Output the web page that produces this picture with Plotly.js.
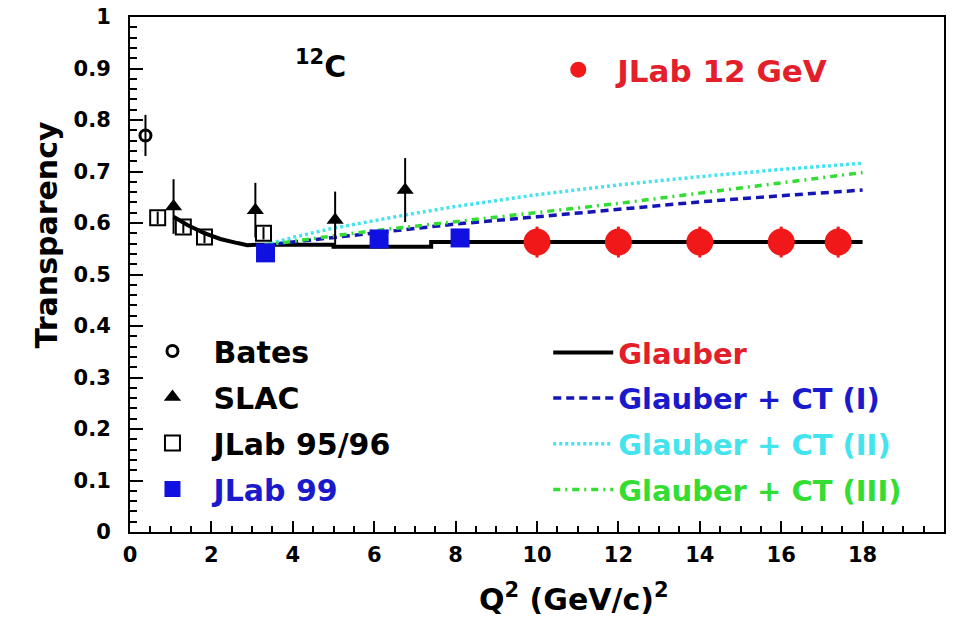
<!DOCTYPE html>
<html>
<head>
<meta charset="utf-8">
<script src="https://cdn.plot.ly/plotly-3.0.1.min.js"></script>
<style>
  html, body { margin: 0; padding: 0; background: #ffffff; }
  #chart { width: 958px; height: 618px; }
</style>
</head>
<body>
<div id="chart"></div>
<script>
// Nuclear transparency of 12C in A(e,e'p) versus Q^2

// Bates
const q2Bates = [0.38];
const tBates = [0.77];
const eBates = [0.04];

// SLAC NE18
const q2Slac = [1.07, 3.08, 5.04, 6.76];
const tSlac = [0.632, 0.625, 0.606, 0.664];
const eSlac = [0.053, 0.053, 0.055, 0.062];

// JLab 95/96
const q2Jlab95 = [0.68, 1.31, 1.83, 3.28];
const tJlab95 = [0.610, 0.592, 0.573, 0.580];
const eJlab95 = [0.012, 0.012, 0.012, 0.012];

// JLab 99
const q2Jlab99 = [3.33, 6.12, 8.11];
const tJlab99 = [0.542, 0.569, 0.571];

// JLab 12 GeV projection
const q2Jlab12 = [10, 12, 14, 16, 17.4];
const tJlab12 = [0.563, 0.563, 0.563, 0.563, 0.563];
const eJlab12 = [0.03, 0.03, 0.03, 0.03, 0.03];

// Glauber calculation
const q2Glauber = [1.07, 1.41, 1.81, 2.22, 2.64, 2.88, 3.1, 5.0, 5.0, 7.4, 7.4, 18.0];
const tGlauber = [0.612, 0.596, 0.581, 0.569, 0.561, 0.557, 0.558, 0.558, 0.554, 0.554, 0.563, 0.563];

// Glauber + colour transparency models
const q2CT = [3.3, 4, 5, 6, 7, 8, 10, 12, 14, 16, 18];
const tCT1 = [0.557, 0.563, 0.572, 0.581, 0.590, 0.598, 0.612, 0.627, 0.641, 0.653, 0.664];
const tCT2 = [0.557, 0.572, 0.590, 0.605, 0.619, 0.632, 0.655, 0.674, 0.690, 0.704, 0.716];
const tCT3 = [0.557, 0.565, 0.575, 0.585, 0.594, 0.603, 0.620, 0.638, 0.658, 0.678, 0.698];

const xTicks = [0, 2, 4, 6, 8, 10, 12, 14, 16, 18];
const xTickText = ['0', '2', '4', '6', '8', '10', '12', '14', '16', '18'];
const yTicks = [0, 0.1, 0.2, 0.3, 0.4, 0.5, 0.6, 0.7, 0.8, 0.9, 1];
const yTickText = ['0', '0.1', '0.2', '0.3', '0.4', '0.5', '0.6', '0.7', '0.8', '0.9', '1'];

const FONT = 'DejaVu Sans, Verdana, sans-serif';
const RED = '#e3202a';
const BLUE = '#1a1acc';
const CYAN = '#44e4ee';
const GREEN = '#33dd33';

function label(txt, color) {
  return '<span style="color:' + color + '">' + txt + '</span>';
}

const traces = [
  {
    x: q2Glauber, y: tGlauber, mode: 'lines', name: label('Glauber', RED),
    line: { color: '#000000', width: 4 }, legend: 'legend2', legendgroup: 'g1'
  },
  {
    x: q2CT, y: tCT1, mode: 'lines', name: label('Glauber + CT (I)', BLUE),
    line: { color: '#1515b5', width: 3.5, dash: '8px,5px' }, legend: 'legend2', legendgroup: 'g2'
  },
  {
    x: q2CT, y: tCT2, mode: 'lines', name: label('Glauber + CT (II)', CYAN),
    line: { color: CYAN, width: 3.5, dash: '3px,3px' }, legend: 'legend2', legendgroup: 'g3'
  },
  {
    x: q2CT, y: tCT3, mode: 'lines', name: label('Glauber + CT (III)', GREEN),
    line: { color: GREEN, width: 3.5, dash: '7px,5px,2px,5px' }, legend: 'legend2', legendgroup: 'g4'
  },
  {
    x: q2Bates, y: tBates, mode: 'markers', name: 'Bates',
    marker: { symbol: 'circle-open', size: 11, color: '#000000', line: { width: 3 } },
    error_y: { type: 'data', array: eBates, color: '#000000', thickness: 2, width: 0 },
    legend: 'legend', legendgroup: 'd1'
  },
  {
    x: q2Slac, y: tSlac, mode: 'markers', name: 'SLAC',
    marker: { symbol: 'triangle-up', size: 15, color: '#000000' },
    error_y: { type: 'data', array: eSlac, color: '#000000', thickness: 2, width: 0 },
    legend: 'legend', legendgroup: 'd2'
  },
  {
    x: q2Jlab95, y: tJlab95, mode: 'markers', name: 'JLab 95/96',
    marker: { symbol: 'square-open', size: 15, color: '#000000', line: { width: 2 } },
    error_y: { type: 'data', array: eJlab95, color: '#000000', thickness: 2, width: 0 },
    legend: 'legend', legendgroup: 'd3'
  },
  {
    x: q2Jlab99, y: tJlab99, mode: 'markers', name: label('JLab 99', BLUE),
    marker: { symbol: 'square', size: 19, color: '#1010e0' },
    legend: 'legend', legendgroup: 'd4'
  },
  {
    x: q2Jlab12, y: tJlab12, mode: 'markers', name: label('JLab 12 GeV', RED),
    marker: { symbol: 'circle', size: 27, color: '#f01818' },
    error_y: { type: 'data', array: eJlab12, color: '#f01818', thickness: 3, width: 0 },
    legend: 'legend3'
  }
];

const legendFont = { family: FONT, size: 30, color: '#000000', weight: 'bold' };

const layout = {
  width: 958,
  height: 618,
  paper_bgcolor: '#ffffff',
  plot_bgcolor: '#ffffff',
  margin: { l: 130, r: 14, t: 17, b: 86 },
  font: { family: FONT, color: '#000000' },
  xaxis: {
    range: [0, 20],
    tickmode: 'array', tickvals: xTicks, ticktext: xTickText,
    ticks: 'inside', ticklen: 11, tickwidth: 2, tickcolor: '#000000',
    minor: { dtick: 0.5, tick0: 0, ticks: 'inside', ticklen: 6, tickwidth: 2, tickcolor: '#000000' },
    showline: true, linecolor: '#000000', linewidth: 2, mirror: true,
    showgrid: false, zeroline: false,
    tickfont: { family: FONT, size: 21, color: '#000000', weight: 'bold' },
    ticklabelstandoff: 3
  },
  yaxis: {
    range: [0, 1],
    tickmode: 'array', tickvals: yTicks, ticktext: yTickText,
    ticks: 'inside', ticklen: 13, tickwidth: 2, tickcolor: '#000000',
    minor: { dtick: 0.02, tick0: 0, ticks: 'inside', ticklen: 7, tickwidth: 2, tickcolor: '#000000' },
    showline: true, linecolor: '#000000', linewidth: 2, mirror: true,
    showgrid: false, zeroline: false,
    tickfont: { family: FONT, size: 21, color: '#000000', weight: 'bold' },
    ticklabelstandoff: 13
  },
  legend: {
    x: 0.0018, y: 0.402, xanchor: 'left', yanchor: 'top',
    bgcolor: 'rgba(0,0,0,0)', borderwidth: 0, itemwidth: 72,
    font: legendFont, traceorder: 'grouped', tracegroupgap: 4
  },
  legend2: {
    x: 0.5138, y: 0.398, xanchor: 'left', yanchor: 'top',
    bgcolor: 'rgba(0,0,0,0)', borderwidth: 0, itemwidth: 60,
    font: { family: FONT, size: 29, color: '#000000', weight: 'bold' },
    traceorder: 'grouped', tracegroupgap: 5
  },
  legend3: {
    x: 0.5028, y: 0.9495, xanchor: 'left', yanchor: 'top',
    bgcolor: 'rgba(0,0,0,0)', borderwidth: 0, itemwidth: 68,
    font: { family: FONT, size: 31, color: '#000000', weight: 'bold' }
  },
  annotations: [
    {
      text: '<sup>12</sup>C', xref: 'paper', yref: 'paper',
      x: 0.234, y: 0.907, xanchor: 'center', yanchor: 'middle', showarrow: false,
      font: { family: FONT, size: 30, color: '#000000', weight: 'bold' }
    },
    {
      text: 'Transparency', xref: 'paper', yref: 'paper', textangle: -90,
      x: -0.1025, y: 0.577, xanchor: 'center', yanchor: 'middle', showarrow: false,
      font: { family: FONT, size: 30, color: '#000000', weight: 'bold' }
    },
    {
      text: 'Q<sup>2</sup> (GeV/c)<sup>2</sup>', xref: 'paper', yref: 'paper',
      x: 0.545, y: -0.128, xanchor: 'center', yanchor: 'middle', showarrow: false,
      font: { family: FONT, size: 30, color: '#000000', weight: 'bold' }
    }
  ],
  showlegend: true
};

Plotly.newPlot('chart', traces, layout, { displayModeBar: false, staticPlot: true });
</script>
</body>
</html>
